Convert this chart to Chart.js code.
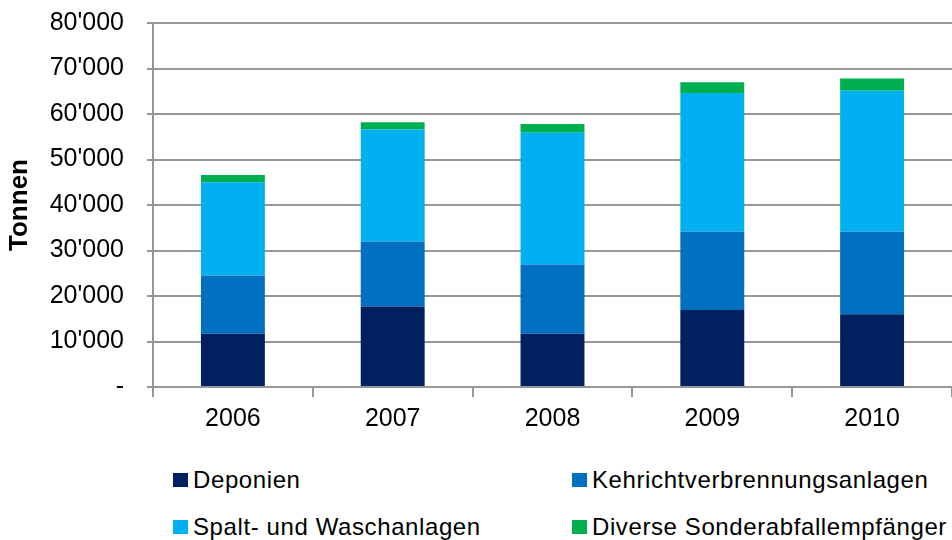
<!DOCTYPE html>
<html>
<head>
<meta charset="utf-8">
<script src="https://cdn.jsdelivr.net/npm/chart.js@4"></script>
<style>
  html, body { margin: 0; padding: 0; background: #fff; }
  #wrap { position: relative; width: 952px; height: 540px; overflow: hidden; font-family: "Liberation Sans", Arial, sans-serif; }
  #box { position: absolute; left: 0; top: 0; width: 952px; height: 445px; }
  .lg { position: absolute; font-size: 24px; letter-spacing: 0.6px; color: #000; white-space: nowrap; line-height: 28px; }
  .lg span { position: absolute; left: -20px; top: 7px; width: 15px; height: 14px; }
</style>
</head>
<body>
<div id="wrap">
  <div id="box"><canvas id="chart"></canvas></div>
  <div id="legend"></div>
</div>
<script>
const years = ['2006', '2007', '2008', '2009', '2010'];
const deponien = [11700, 17700, 11700, 16900, 16000];
const kehricht = [12800, 14300, 15200, 17200, 18100];
const spalt = [20500, 24600, 29000, 30500, 31000];
const diverse = [1600, 1600, 1900, 2400, 2700];
const seriesNames = ['Deponien', 'Kehrichtverbrennungsanlagen', 'Spalt- und Waschanlagen', 'Diverse Sonderabfallempfänger'];
const seriesColors = ['#002060', '#0070C0', '#00B0F0', '#00B050'];

Chart.defaults.font.family = '"Liberation Sans", Arial, sans-serif';
Chart.defaults.color = '#000';

const gridColor = '#969696';
const seriesData = [deponien, kehricht, spalt, diverse];

const chart = new Chart(document.getElementById('chart'), {
    type: 'bar',
    data: {
        labels: years,
        datasets: seriesData.map((d, i) => ({
            label: seriesNames[i],
            data: d,
            backgroundColor: seriesColors[i],
            borderWidth: 0,
            categoryPercentage: 0.4,
            barPercentage: 1.0
        }))
    },
    options: {
        responsive: true,
        maintainAspectRatio: false,
        animation: false,
        layout: { padding: { top: 23, right: 0, left: 0, bottom: 0 } },
        plugins: {
            legend: { display: false },
            tooltip: { enabled: false }
        },
        scales: {
            x: {
                stacked: true,
                afterFit: s => { s.height = 58; s.paddingRight = 0; },
                grid: { drawOnChartArea: false, drawTicks: true, tickLength: 10, color: gridColor, lineWidth: 2, offset: true },
                border: { color: gridColor, width: 2 },
                ticks: { padding: 7, font: { size: 25 } }
            },
            y: {
                stacked: true,
                min: 0,
                max: 80000,
                // l'axe garde une largeur fixe, le haut est réglé par layout.padding
                afterFit: s => { s.width = 153; s.paddingTop = 0; s.paddingBottom = 0; },
                grid: { color: gridColor, lineWidth: 2, tickLength: 6 },
                border: { color: gridColor, width: 2 },
                ticks: {
                    stepSize: 10000,
                    padding: 23,
                    font: { size: 25 },
                    callback: v => v === 0 ? '-' : String(v).replace(/\B(?=(\d{3})+(?!\d))/g, "'")
                },
                title: {
                    display: true,
                    text: 'Tonnen',
                    font: { size: 26, weight: 'bold' },
                    padding: { top: 4, bottom: 0 }
                }
            }
        }
    }
});

// legende en deux colonnes comme dans l'original
const legendPos = [[193, 466], [592, 466], [193, 513], [592, 513]];
const legendEl = document.getElementById('legend');
chart.data.datasets.forEach((ds, i) => {
    const item = document.createElement('div');
    item.className = 'lg';
    item.style.left = legendPos[i][0] + 'px';
    item.style.top = legendPos[i][1] + 'px';
    item.innerHTML = '<span style="background:' + ds.backgroundColor + '"></span>' + ds.label;
    legendEl.appendChild(item);
});
</script>
</body>
</html>
